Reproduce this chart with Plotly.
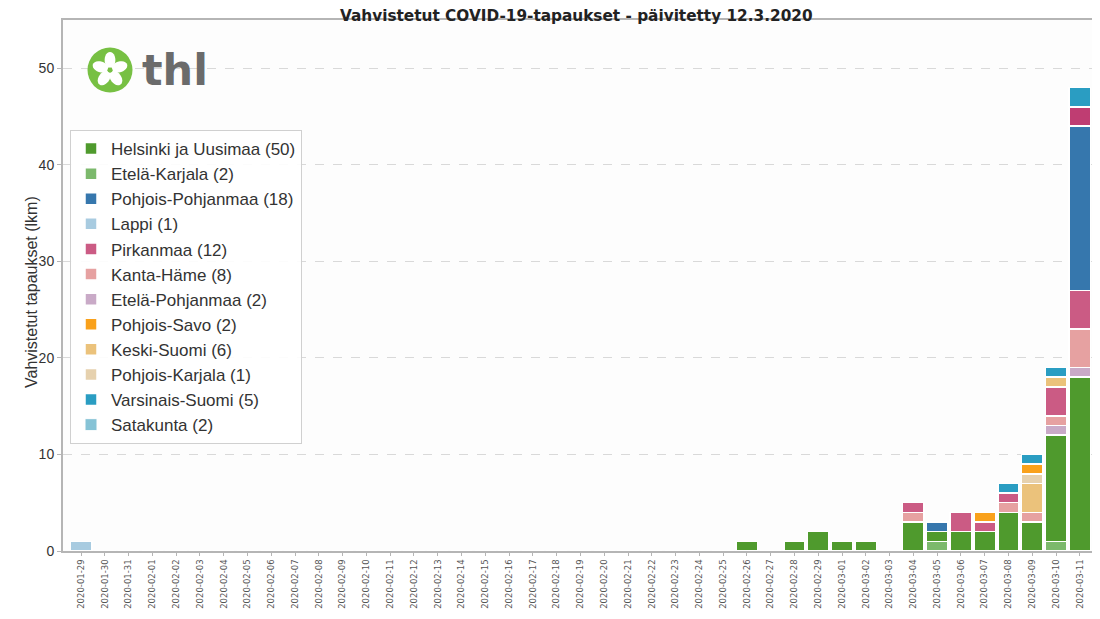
import math
import pandas as pd
import plotly.graph_objects as go

dates = [d.strftime("%Y-%m-%d") for d in pd.date_range("2020-01-29", "2020-03-11")]

# cases per region per date (dates not listed = 0)
etela_karjala = {"2020-03-05": 1, "2020-03-10": 1}
helsinki = {"2020-02-26": 1, "2020-02-28": 1, "2020-02-29": 2, "2020-03-01": 1, "2020-03-02": 1,
            "2020-03-04": 3, "2020-03-05": 1, "2020-03-06": 2, "2020-03-07": 2, "2020-03-08": 4,
            "2020-03-09": 3, "2020-03-10": 11, "2020-03-11": 18}
etela_pohjanmaa = {"2020-03-10": 1, "2020-03-11": 1}
kanta_hame = {"2020-03-04": 1, "2020-03-08": 1, "2020-03-09": 1, "2020-03-10": 1, "2020-03-11": 4}
pirkanmaa = {"2020-03-04": 1, "2020-03-06": 2, "2020-03-07": 1, "2020-03-08": 1, "2020-03-10": 3, "2020-03-11": 4}
keski_suomi = {"2020-03-09": 3, "2020-03-10": 1}
pohjois_karjala = {"2020-03-09": 1}
pohjois_savo = {"2020-03-07": 1, "2020-03-09": 1}
pohjois_pohjanmaa = {"2020-03-05": 1, "2020-03-11": 17}
satakunta = {"2020-03-11": 2}
varsinais_suomi = {"2020-03-08": 1, "2020-03-09": 1, "2020-03-10": 1, "2020-03-11": 2}
lappi = {"2020-01-29": 1}

# legend labels (totals as printed in the legend)
legend_labels = ["Helsinki ja Uusimaa (50)", "Etelä-Karjala (2)", "Pohjois-Pohjanmaa (18)", "Lappi (1)",
                 "Pirkanmaa (12)", "Kanta-Häme (8)", "Etelä-Pohjanmaa (2)", "Pohjois-Savo (2)",
                 "Keski-Suomi (6)", "Pohjois-Karjala (1)", "Varsinais-Suomi (5)", "Satakunta (2)"]

y_ticks = [0, 10, 20, 30, 40, 50]

# (data, legend index, color) in stacking order
series = [
    (etela_karjala, 1, "#7cb96c"),
    (helsinki, 0, "#4f9a2d"),
    (etela_pohjanmaa, 6, "#c9aac7"),
    (kanta_hame, 5, "#e6a1a1"),
    (pirkanmaa, 4, "#cb5b84"),
    (keski_suomi, 8, "#ebc27b"),
    (pohjois_karjala, 9, "#e6d1ae"),
    (pohjois_savo, 7, "#f9a11b"),
    (pohjois_pohjanmaa, 2, "#3677ad"),
    (satakunta, None, "#bf3d72"),
    (varsinais_suomi, 10, "#2a9dc2"),
    (lappi, 3, "#a8cbe0"),
]
satakunta_legend_color = "#86c3d6"

fig = go.Figure()
for data, li, color in series:
    vals = [data.get(d, 0) for d in dates]
    fig.add_trace(go.Bar(
        x=dates, y=vals, width=0.9,
        name=legend_labels[li] if li is not None else legend_labels[11],
        showlegend=li is not None,
        legendrank=(li if li is not None else 11) + 1,
        marker=dict(color=color, line=dict(color="white", width=1.5)),
    ))
# legend entry for Satakunta
fig.add_trace(go.Bar(x=[dates[0]], y=[None], name=legend_labels[11], legendrank=12,
                     marker=dict(color=satakunta_legend_color, line=dict(color="white", width=1))))

# geometry: the page body adds an 8px offset, so figure coords = screen coords - 8
OFF = 8
FW, FH = 1100 - OFF, 619 - OFF
L, R, T, B = 63, 1096, 20, 551  # plot area in screen pixels
W, H = R - L, B - T
def px(x):
    return (x - L) / W
def py(y):
    return (B - y) / H

# THL logo
shapes = []
cx, cy, rad = 110, 70, 22.5
shapes.append(dict(type="circle", xref="paper", yref="paper", x0=px(cx - rad), x1=px(cx + rad),
                   y0=py(cy + rad), y1=py(cy - rad), fillcolor="#77c043", line=dict(width=0), layer="above"))
for k in range(5):
    ang = math.radians(-90 + 72 * k)
    pcx, pcy = cx + 10 * math.cos(ang), cy + 10 * math.sin(ang)
    pts = []
    for j in range(24):
        t = 2 * math.pi * j / 24
        ex, ey = 8.0 * math.cos(t), 5.4 * math.sin(t)
        rx = pcx + ex * math.cos(ang) - ey * math.sin(ang)
        ry = pcy + ex * math.sin(ang) + ey * math.cos(ang)
        pts.append(f"{px(rx):.5f},{py(ry):.5f}")
    shapes.append(dict(type="path", xref="paper", yref="paper", path="M" + " L".join(pts) + " Z",
                       fillcolor="white", line=dict(width=0), layer="above"))
shapes.append(dict(type="circle", xref="paper", yref="paper", x0=px(cx - 2.5), x1=px(cx + 2.5),
                   y0=py(cy + 2.5), y1=py(cy - 2.5), fillcolor="#77c043", line=dict(width=0), layer="above"))

annotations = [
    dict(text="<b>thl</b>", xref="paper", yref="paper", x=px(140), y=py(70),
         xanchor="left", yanchor="middle", showarrow=False,
         font=dict(family="DejaVu Sans", size=43, color="#6b6b6b")),
    dict(text="<b>Vahvistetut COVID-19-tapaukset - päivitetty 12.3.2020</b>", xref="paper", yref="paper",
         x=px(576), y=py(15.5), xanchor="center", yanchor="middle", showarrow=False,
         font=dict(family="DejaVu Sans", size=15.3, color="#222")),
    dict(text="Vahvistetut tapaukset (lkm)", xref="paper", yref="paper", x=px(31), y=py(292),
         xanchor="center", yanchor="middle", showarrow=False, textangle=-90,
         font=dict(family="Liberation Sans", size=16, color="#333")),
]

fig.update_layout(
    width=FW, height=FH,
    barmode="stack",
    paper_bgcolor="white", plot_bgcolor="#fdfdfd",
    margin=dict(l=L - OFF, r=FW - (R - OFF), t=T - OFF, b=FH - (B - OFF)),
    font=dict(family="Liberation Sans", color="#333"),
    shapes=shapes, annotations=annotations,
    legend=dict(x=px(70), y=py(130), xanchor="left", yanchor="top",
                bgcolor="rgba(255,255,255,0.9)", bordercolor="#d0d0d0", borderwidth=1,
                font=dict(family="Liberation Sans", size=17, color="#333"), traceorder="normal"),
    bargap=0.1,
)
fig.update_xaxes(type="category", range=[-0.76, 42.68], tickangle=-90, showgrid=False, automargin=False,
                 tickfont=dict(family="DejaVu Sans", size=8.5, color="#555"),
                 showline=True, mirror=True, linecolor="#b5b5b5", linewidth=2,
                 ticks="outside", ticklen=3, tickcolor="#b5b5b5")
fig.update_yaxes(range=[0, 55], tickvals=y_ticks, showgrid=True, gridcolor="#d9d9d9", griddash="dash",
                 gridwidth=1, zeroline=False, automargin=False,
                 tickfont=dict(family="Liberation Sans", size=14, color="#333"),
                 showline=True, mirror=True, linecolor="#b5b5b5", linewidth=2,
                 ticks="outside", ticklen=4, tickcolor="#b5b5b5")

fig.write_html("out.html")
